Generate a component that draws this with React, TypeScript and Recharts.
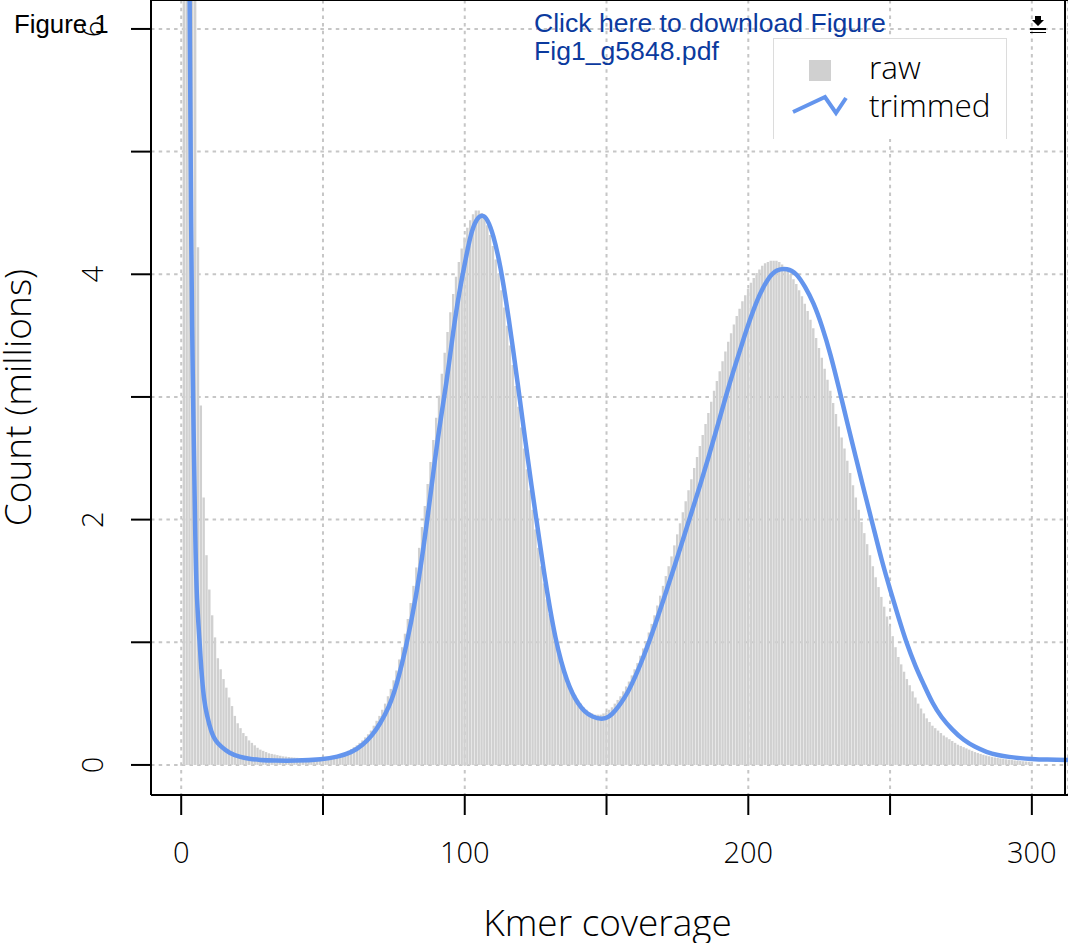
import {
  Bar,
  CartesianGrid,
  ComposedChart,
  Label,
  Line,
  ReferenceLine,
  XAxis,
  YAxis,
} from "recharts";

// raw histogram, millions of kmers for coverage 1, 2, 3, ... 300
const rawCounts = [
  9, 9, 8, 7.5, 6.5, 4.22, 2.93, 2.18, 1.71, 1.43,
  1.22, 1.04, 0.87, 0.78, 0.7, 0.63, 0.55, 0.48, 0.4, 0.34,
  0.3, 0.26, 0.235, 0.2, 0.18, 0.16, 0.14, 0.125, 0.115, 0.105,
  0.095, 0.09, 0.085, 0.08, 0.075, 0.07, 0.068, 0.065, 0.062, 0.06,
  0.058, 0.056, 0.055, 0.054, 0.054, 0.054, 0.055, 0.056, 0.058, 0.06,
  0.062, 0.065, 0.07, 0.074, 0.08, 0.087, 0.095, 0.105, 0.115, 0.13,
  0.145, 0.16, 0.18, 0.2, 0.225, 0.25, 0.28, 0.32, 0.36, 0.4,
  0.45, 0.5, 0.56, 0.62, 0.69, 0.77, 0.86, 0.96, 1.07, 1.19,
  1.32, 1.46, 1.61, 1.77, 1.94, 2.11, 2.29, 2.47, 2.65, 2.83,
  3.01, 3.19, 3.36, 3.53, 3.69, 3.84, 3.98, 4.1, 4.21, 4.3,
  4.38, 4.44, 4.49, 4.52, 4.52, 4.5, 4.46, 4.4, 4.32, 4.23,
  4.12, 4.0, 3.87, 3.73, 3.58, 3.42, 3.26, 3.09, 2.92, 2.75,
  2.58, 2.41, 2.24, 2.08, 1.92, 1.77, 1.62, 1.48, 1.35, 1.23,
  1.12, 1.02, 0.93, 0.85, 0.78, 0.72, 0.66, 0.61, 0.57, 0.53,
  0.5, 0.47, 0.45, 0.43, 0.42, 0.41, 0.41, 0.41, 0.42, 0.43,
  0.45, 0.47, 0.5, 0.53, 0.56, 0.6, 0.64, 0.68, 0.73, 0.78,
  0.83, 0.89, 0.95, 1.01, 1.08, 1.15, 1.22, 1.3, 1.38, 1.46,
  1.54, 1.62, 1.7, 1.79, 1.88, 1.97, 2.06, 2.15, 2.24, 2.33,
  2.42, 2.51, 2.6, 2.69, 2.78, 2.87, 2.96, 3.05, 3.13, 3.21,
  3.29, 3.37, 3.45, 3.52, 3.59, 3.66, 3.72, 3.78, 3.83, 3.88,
  3.93, 3.97, 4.01, 4.04, 4.07, 4.09, 4.1, 4.11, 4.11, 4.11,
  4.1, 4.08, 4.06, 4.03, 4.0, 3.96, 3.92, 3.87, 3.82, 3.76,
  3.7, 3.63, 3.56, 3.48, 3.4, 3.32, 3.23, 3.14, 3.05, 2.95,
  2.86, 2.76, 2.67, 2.58, 2.48, 2.38, 2.28, 2.18, 2.08, 1.98,
  1.89, 1.8, 1.71, 1.62, 1.53, 1.45, 1.37, 1.29, 1.21, 1.13,
  1.05, 0.96, 0.88, 0.82, 0.76, 0.7, 0.65, 0.6, 0.55, 0.5,
  0.46, 0.42, 0.38, 0.35, 0.32, 0.3, 0.28, 0.26, 0.24, 0.225,
  0.21, 0.195, 0.18, 0.165, 0.155, 0.145, 0.135, 0.125, 0.115, 0.105,
  0.097, 0.09, 0.083, 0.077, 0.071, 0.066, 0.061, 0.057, 0.053, 0.049,
  0.046, 0.043, 0.04, 0.037, 0.035, 0.032, 0.03, 0.028, 0.026, 0.024,
];

const trimmedCoverage = [
  2, 3, 3.5, 4, 5, 5.5, 6.5, 7, 8, 9, 10.7, 12, 14, 17, 20.6, 24, 27.6, 33, 40, 50,
  55, 60, 64, 67.5, 70, 73.4, 76, 79.4, 82.9, 85, 86.8, 89, 91, 93.5, 96, 98, 100.3, 102, 104, 106.2,
  108, 110, 112.6, 115, 117, 119.3, 121.5, 123.5, 125.6, 128, 130, 132, 134, 136, 138, 140, 142, 145, 148.4, 151,
  153, 155, 157.5, 160, 162.5, 165, 168, 171, 174, 177, 180, 183, 186, 189, 192, 195, 198, 201, 204, 207,
  210, 213.7, 217, 220, 223, 226, 229, 232, 235, 238, 241, 244, 247, 250, 253, 255.7, 259, 262, 265, 268,
  272, 276, 280, 284, 288, 292, 296, 299.5, 305, 313, 318,
];
const trimmedCounts = [
  9, 6.4, 4.2, 3.3, 1.75, 1.35, 1, 0.8, 0.53, 0.41, 0.26, 0.2, 0.15, 0.095, 0.065, 0.05, 0.04, 0.035, 0.033, 0.046,
  0.065, 0.1, 0.16, 0.245, 0.33, 0.475, 0.65, 0.965, 1.38, 1.7, 2, 2.4, 2.75, 3.1, 3.55, 3.85, 4.12, 4.32, 4.45, 4.49,
  4.45, 4.33, 4.07, 3.72, 3.4, 3.0, 2.62, 2.28, 1.95, 1.56, 1.28, 1.03, 0.84, 0.69, 0.58, 0.5, 0.44, 0.39, 0.37, 0.39,
  0.44, 0.5, 0.59, 0.71, 0.85, 1, 1.2, 1.41, 1.62, 1.84, 2.06, 2.28, 2.51, 2.75, 3.0, 3.23, 3.45, 3.66, 3.84, 3.97,
  4.04, 4.05, 4.01, 3.9, 3.77, 3.58, 3.35, 3.07, 2.78, 2.5, 2.22, 1.95, 1.67, 1.43, 1.2, 1.0, 0.8, 0.65, 0.5, 0.39,
  0.285, 0.2, 0.145, 0.105, 0.08, 0.065, 0.055, 0.049, 0.043, 0.04, 0.04,
];

const xTicks = [0, 50, 100, 150, 200, 250, 300];
const xLabelled = [0, 100, 200, 300];
const yTicks = [0, 1, 2, 3, 4, 5, 6];
const yLabelled = [0, 2, 4, 6];

const xMin = -10.65;
const xSpine = 311.7;
const xMax = 312.75;
const yMin = -0.245;
const yMax = 6.236;

const rawRows = rawCounts.map((count, i) => ({ coverage: i + 1, raw: count }));
const trimmedRows = trimmedCoverage.map((coverage, i) => ({ coverage, trimmed: trimmedCounts[i] }));

const axisFont = "'Open Sans', 'Noto Sans', sans-serif";
const linkBlue = "#0b3a9e";
const lineBlue = "#6495ed";
const barGrey = "#d0d0d0";

function YTick({ x, y, payload }: any) {
  if (!yLabelled.includes(payload.value)) return null;
  return (
    <text
      transform={`translate(${x - 26},${y}) rotate(-90)`}
      textAnchor="middle"
      fontFamily={axisFont}
      fontWeight={300}
      fontSize={29}
      fill="#000"
    >
      {payload.value}
    </text>
  );
}

function XTick({ x, y, payload }: any) {
  if (!xLabelled.includes(payload.value)) return null;
  return (
    <text x={x} y={y + 46} textAnchor="middle" fontFamily={axisFont} fontWeight={300} fontSize={29} fill="#000">
      {payload.value}
    </text>
  );
}

function ChartLegend() {
  return (
    <svg width={236} height={102} style={{ position: "absolute", left: 772, top: 37 }}>
      <rect x={1.5} y={1.5} width={233} height={110} fill="#fff" stroke="#dcdcdc" />
      <rect x={37} y={23} width={22} height={21} fill={barGrey} />
      <polyline points="21,75 53,60 64,76 74,61" fill="none" stroke={lineBlue} strokeWidth={4} />
      <text x={97} y={42} fontFamily={axisFont} fontWeight={300} fontSize={31.5} fill="#000">raw</text>
      <text x={97} y={80} fontFamily={axisFont} fontWeight={300} fontSize={31.5} fill="#000">trimmed</text>
    </svg>
  );
}

export default function App() {
  return (
    <div style={{ position: "absolute", left: 0, top: 0, width: 1068, height: 943, background: "#fff", overflow: "hidden" }}>
      <ComposedChart width={1068} height={943} data={rawRows} margin={{ top: 0, right: 0, bottom: 0, left: 0 }} barGap={0}>
        <XAxis
          dataKey="coverage"
          type="number"
          domain={[xMin, xMax]}
          allowDataOverflow
          ticks={xTicks}
          interval={0}
          height={148}
          tick={<XTick />}
          tickSize={20}
          axisLine={false}
          tickLine={{ stroke: "#000", strokeWidth: 2 }}
        >
          <Label
            value="Kmer coverage"
            position="insideBottom"
            offset={7}
            dx={-2}
            style={{ fontFamily: axisFont, fontWeight: 300, fontSize: 37, fill: "#000" }}
          />
        </XAxis>
        {/* second axis for the curve only, its fractional coverages would squeeze the bars otherwise */}
        <XAxis xAxisId="curve" dataKey="coverage" type="number" domain={[xMin, xMax]} allowDataOverflow hide height={148} />
        <YAxis
          type="number"
          domain={[yMin, yMax]}
          allowDataOverflow
          ticks={yTicks}
          interval={0}
          width={151}
          tick={<YTick />}
          tickSize={20}
          axisLine={false}
          tickLine={{ stroke: "#000", strokeWidth: 2 }}
        >
          <Label
            value="Count (millions)"
            angle={-90}
            position="insideLeft"
            offset={18}
            style={{ textAnchor: "middle", fontFamily: axisFont, fontWeight: 300, fontSize: 37, fill: "#000" }}
          />
        </YAxis>
        <Bar dataKey="raw" fill={barGrey} barSize={2.4} isAnimationActive={false} />
        <CartesianGrid stroke="#c6c6c6" strokeWidth={2} strokeDasharray="3.5 4.2" />
        <Line
          xAxisId="curve"
          data={trimmedRows}
          dataKey="trimmed"
          type="basis"
          stroke={lineBlue}
          strokeWidth={4.5}
          dot={false}
          activeDot={false}
          isAnimationActive={false}
        />
        <ReferenceLine x={xMin} stroke="#000" strokeWidth={2} />
        <ReferenceLine x={xSpine} stroke="#000" strokeWidth={2} />
        <ReferenceLine y={yMin} stroke="#000" strokeWidth={2} />
        <ReferenceLine y={yMax} stroke="#000" strokeWidth={2} />
      </ComposedChart>
      <ChartLegend />
      <div style={{ position: "absolute", left: 14, top: 9, fontFamily: "'Liberation Sans', sans-serif", fontSize: 25.8, lineHeight: "30px", color: "#000", whiteSpace: "nowrap" }}>
        Figure 1
      </div>
      <div style={{ position: "absolute", left: 534, top: 9, fontFamily: "'Liberation Sans', sans-serif", fontSize: 26.6, lineHeight: "28px", color: linkBlue, whiteSpace: "nowrap" }}>
        Click here to download Figure
        <br />
        Fig1_g5848.pdf
      </div>
      <svg width={20} height={20} style={{ position: "absolute", left: 1029, top: 15 }}>
        <path d="M6 1h6v4h3l-6 6-6-6h3z" fill="#000" />
        <rect x={1} y={13} width={16} height={2} fill="#000" />
        <rect x={1} y={17} width={16} height={1} fill="#000" />
      </svg>
    </div>
  );
}
